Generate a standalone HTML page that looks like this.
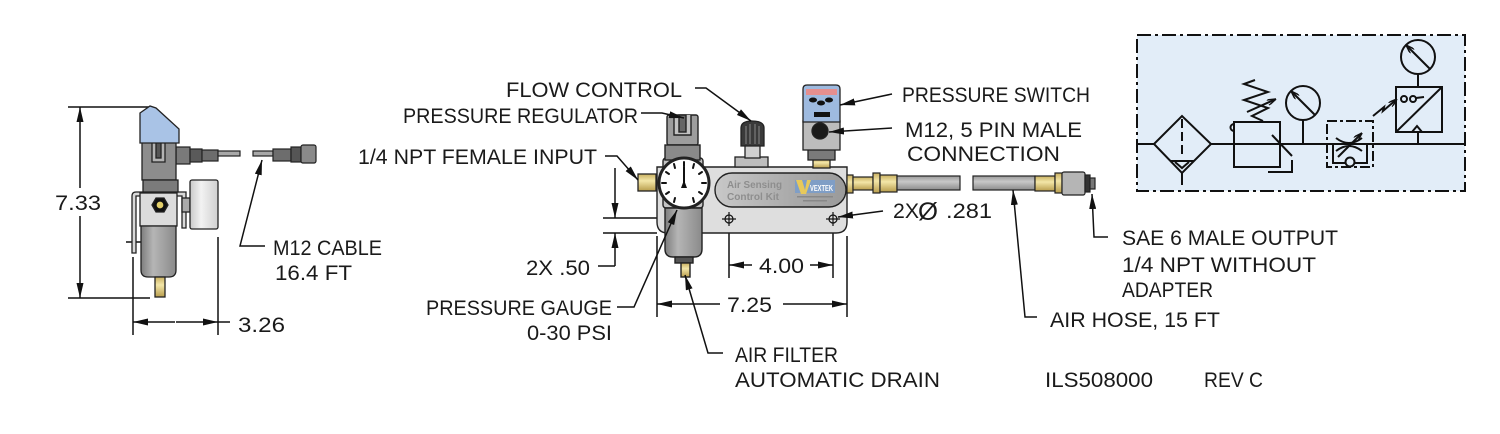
<!DOCTYPE html>
<html><head><meta charset="utf-8"><style>
html,body{margin:0;padding:0;background:#fff;}
svg{display:block;}
text{font-family:"Liberation Sans",sans-serif;font-size:21px;fill:#1a1a1a;}
</style></head><body>
<svg width="1500" height="434" viewBox="0 0 1500 434" xmlns="http://www.w3.org/2000/svg">
<defs>
<marker id="ar" markerWidth="15" markerHeight="7" refX="15" refY="3.5" orient="auto" markerUnits="userSpaceOnUse"><path d="M0,0 L15,3.5 L0,7 z" fill="#111"/></marker>
<marker id="as" markerWidth="15" markerHeight="7" refX="15" refY="3.5" orient="auto-start-reverse" markerUnits="userSpaceOnUse"><path d="M0,0 L15,3.5 L0,7 z" fill="#111"/></marker>
<marker id="sa" markerWidth="9" markerHeight="6" refX="9" refY="3" orient="auto" markerUnits="userSpaceOnUse"><path d="M0,0 L9,3 L0,6" fill="none" stroke="#111" stroke-width="1.5"/></marker>
<linearGradient id="gbowl" x1="0" x2="1" y1="0" y2="0"><stop offset="0" stop-color="#7d7d7d"/><stop offset="0.35" stop-color="#b5b5b5"/><stop offset="1" stop-color="#8a8a8a"/></linearGradient>
<linearGradient id="gbrass" x1="0" x2="0" y1="0" y2="1"><stop offset="0" stop-color="#c9b060"/><stop offset="0.4" stop-color="#f3e6a8"/><stop offset="1" stop-color="#b89d4c"/></linearGradient>
<linearGradient id="ghose" x1="0" x2="0" y1="0" y2="1"><stop offset="0" stop-color="#9a9a9a"/><stop offset="0.4" stop-color="#c8c8c8"/><stop offset="1" stop-color="#8c8c8c"/></linearGradient>
<linearGradient id="gplate" x1="0" x2="1" y1="0" y2="0"><stop offset="0" stop-color="#c8c8c8"/><stop offset="0.6" stop-color="#a9a9a9"/><stop offset="1" stop-color="#9a9a9a"/></linearGradient>
<linearGradient id="ggauge" x1="0" x2="1" y1="0" y2="0"><stop offset="0" stop-color="#c9c9c9"/><stop offset="0.4" stop-color="#f2f2f2"/><stop offset="1" stop-color="#d0d0d0"/></linearGradient>
</defs>

<!-- ================= LEFT SIDE VIEW ================= -->
<g stroke="#111" stroke-width="1.5" fill="none">
  <!-- 7.33 dimension -->
  <line x1="68" y1="107" x2="152" y2="107"/>
  <line x1="68" y1="298" x2="150" y2="298"/>
  <line x1="80" y1="188" x2="80" y2="107" marker-end="url(#ar)"/>
  <line x1="80" y1="216" x2="80" y2="298" marker-end="url(#ar)"/>
  <!-- 3.26 dimension -->
  <line x1="133" y1="257" x2="133" y2="335"/>
  <line x1="218" y1="237" x2="218" y2="335"/>
  <line x1="175" y1="322" x2="133" y2="322" marker-end="url(#ar)"/>
  <line x1="176" y1="322" x2="218" y2="322" marker-end="url(#ar)"/>
  <line x1="218" y1="322" x2="230" y2="322"/>
  <line x1="126" y1="242" x2="141" y2="242"/>
  <!-- M12 cable leader -->
  <polyline points="265,246 240,246 262,160" marker-end="url(#ar)"/>
</g>
<!-- cable connectors -->
<g stroke="#222" stroke-width="1.2">
  <rect x="176" y="147" width="14" height="17" fill="#7a7a7a"/>
  <rect x="190" y="149" width="12" height="13" fill="#5a5a5a"/>
  <rect x="202" y="150" width="16" height="11" fill="#6d6d6d"/>
  <rect x="218" y="151" width="22" height="5" fill="#a8a8a8"/>
  <rect x="253" y="151" width="20" height="5" fill="#a8a8a8"/>
  <rect x="273" y="149" width="18" height="12" fill="#6d6d6d"/>
  <rect x="291" y="147" width="10" height="15" fill="#555"/>
  <rect x="301" y="145" width="15" height="18" rx="2" fill="#8a8a8a"/>
</g>
<!-- bracket -->
<g stroke="#222" stroke-width="1.3" fill="#d8d8d8">
  <path d="M132,253 L132,196 Q132,192 136,192 L186,192 L186,228 L182,228 L182,196 L136,196 L136,253 Z"/>
</g>
<!-- regulator -->
<g stroke="#222" stroke-width="1.3">
  <rect x="142" y="140" width="34" height="40" fill="#8d8d8d"/>
  <path d="M152,140 L152,162 L165,162 L165,140" fill="#b3b3b3"/>
  <rect x="156" y="140" width="5" height="18" fill="#555"/>
  <rect x="143" y="180" width="35" height="12" fill="#7b7b7b"/>
  <polygon points="140,113 150,106 156,108 179,129 179,143 140,143" fill="#a9c3e6"/>
  <rect x="140" y="193" width="37" height="33" fill="#dcdcdc"/>
  <polygon points="152,205 156,198 164,198 168,205 164,212 156,212" fill="#111"/>
  <circle cx="160" cy="205" r="4" fill="#e3cf6a" stroke="#111"/>
  <path d="M141,226 L176,226 L176,270 Q176,277 169,277 L148,277 Q141,277 141,270 Z" fill="url(#gbowl)"/>
  <rect x="155" y="277" width="10" height="20" fill="url(#gbrass)"/>
  <rect x="182" y="198" width="8" height="14" fill="#aaa"/>
  <rect x="190" y="180" width="28" height="49" rx="2" fill="url(#ggauge)"/>
</g>

<!-- ================= MIDDLE ASSEMBLY ================= -->
<!-- dimension & extension lines -->
<g stroke="#111" stroke-width="1.5" fill="none">
  <line x1="603" y1="218" x2="742" y2="218"/>
  <line x1="823" y1="218" x2="843" y2="218"/>
  <line x1="603" y1="233" x2="657" y2="233"/>
  <line x1="615" y1="168" x2="615" y2="218" marker-end="url(#ar)"/>
  <line x1="615" y1="266" x2="615" y2="233" marker-end="url(#ar)"/>
  <polyline points="598,266 615,266"/>
  <line x1="729" y1="224" x2="729" y2="278"/>
  <line x1="833" y1="224" x2="833" y2="278"/>
  <line x1="752" y1="265" x2="729" y2="265" marker-end="url(#ar)"/>
  <line x1="810" y1="265" x2="833" y2="265" marker-end="url(#ar)"/>
  <line x1="657" y1="236" x2="657" y2="317"/>
  <line x1="847" y1="236" x2="847" y2="317"/>
  <line x1="720" y1="304" x2="657" y2="304" marker-end="url(#ar)"/>
  <line x1="783" y1="304" x2="847" y2="304" marker-end="url(#ar)"/>
</g>
<!-- manifold body -->
<g stroke="#222" stroke-width="1.4">
  <path d="M657,167 L847,167 L847,222 Q847,233 836,233 L668,233 Q657,233 657,222 Z" fill="#dedede"/>
  <rect x="715" y="173" width="131" height="34" rx="17" fill="url(#gplate)"/>
</g>
<text x="727" y="188" style="font-size:10px;font-weight:bold;fill:#8e8e8e" textLength="55" lengthAdjust="spacingAndGlyphs">Air Sensing</text>
<text x="727" y="200" style="font-size:10px;font-weight:bold;fill:#8e8e8e" textLength="52" lengthAdjust="spacingAndGlyphs">Control Kit</text>
<rect x="795" y="180" width="40" height="13" fill="#7f9ec6"/>
<polygon points="796,180 802,180 805,190 807,180 811,180 806,194 801,194" fill="#e8c95a"/>
<text x="810" y="191" style="font-size:8px;font-weight:bold;fill:#fff" textLength="23" lengthAdjust="spacingAndGlyphs">VEXTEK</text>
<rect x="797" y="196" width="36" height="1.5" fill="#888"/>
<rect x="803" y="200" width="24" height="1.5" fill="#888"/>
<!-- holes -->
<g stroke="#111" stroke-width="1.2" fill="none">
  <circle cx="729" cy="219" r="4"/><line x1="722" y1="219" x2="736" y2="219"/><line x1="729" y1="212" x2="729" y2="226"/>
  <circle cx="833" cy="219" r="4"/><line x1="826" y1="219" x2="840" y2="219"/><line x1="833" y1="212" x2="833" y2="226"/>
</g>
<!-- inlet -->
<rect x="638" y="174" width="18" height="17" fill="url(#gbrass)" stroke="#222" stroke-width="1.3"/>
<!-- regulator / gauge / filter -->
<g stroke="#222" stroke-width="1.4">
  <rect x="663" y="158" width="40" height="50" rx="3" fill="#c4c4c4"/>
  <rect x="667" y="115" width="31" height="30" rx="2" fill="#9d9d9d"/>
  <path d="M674,115 L674,135 L691,135 L691,115" fill="#c2c2c2"/>
  <rect x="679" y="115" width="7" height="17" fill="#666"/>
  <rect x="665" y="145" width="35" height="15" fill="#8a8a8a"/>
  <path d="M665,208 L702,208 L702,249 Q702,257 694,257 L673,257 Q665,257 665,249 Z" fill="url(#gbowl)"/>
  <rect x="675" y="257" width="18" height="6" fill="#555"/>
  <rect x="681" y="263" width="9" height="14" fill="url(#gbrass)"/>
  <circle cx="684" cy="183" r="25" fill="#fff" stroke="#222" stroke-width="3"/>
</g>
<g stroke="#111" stroke-width="2" stroke-linecap="round">
  <line x1="684" y1="162" x2="684" y2="166"/>
  <line x1="694" y1="164" x2="693" y2="168"/>
  <line x1="702" y1="172" x2="699" y2="174"/>
  <line x1="706" y1="183" x2="702" y2="183"/>
  <line x1="702" y1="194" x2="699" y2="192"/>
  <line x1="694" y1="202" x2="693" y2="198"/>
  <line x1="674" y1="164" x2="675" y2="168"/>
  <line x1="666" y1="172" x2="669" y2="174"/>
  <line x1="662" y1="183" x2="666" y2="183"/>
  <line x1="666" y1="194" x2="669" y2="192"/>
  <line x1="674" y1="202" x2="675" y2="198"/>
  <line x1="684" y1="167" x2="684" y2="185"/>
</g>
<path d="M681,188 L684,180 L687,188 Z" fill="#111"/>
<!-- flow control -->
<g stroke="#222" stroke-width="1.3">
  <rect x="735" y="157" width="33" height="10" fill="#bdbdbd"/>
  <rect x="745" y="145" width="15" height="13" fill="#cfcfcf"/>
  <path d="M741,146 L741,128 Q741,121 752,121 Q764,121 764,128 L764,146 Z" fill="#3a3a3a"/>
</g>
<g stroke="#888" stroke-width="1"><line x1="746" y1="126" x2="746" y2="144"/><line x1="750" y1="124" x2="750" y2="144"/><line x1="755" y1="124" x2="755" y2="144"/><line x1="759" y1="126" x2="759" y2="144"/></g>
<!-- pressure switch -->
<g stroke="#222" stroke-width="1.3">
  <rect x="813" y="159" width="17" height="9" fill="url(#gbrass)"/>
  <rect x="808" y="149" width="27" height="11" fill="#7a7a7a"/>
  <rect x="803" y="121" width="37" height="29" fill="#bcbcbc"/>
  <path d="M803,122 L803,89 Q803,85 807,85 L836,85 Q840,85 840,89 L840,122 Z" fill="#9ebadf"/>
  <rect x="806" y="89" width="31" height="6" fill="#e58f8f" stroke="none"/>
  <circle cx="820" cy="131" r="8" fill="#1a1a1a"/>
</g>
<g fill="#111"><ellipse cx="813" cy="100" rx="4" ry="2.5"/><ellipse cx="821" cy="103" rx="4" ry="2.5"/><ellipse cx="829" cy="100" rx="4" ry="2.5"/><rect x="814" y="112" width="16" height="5"/></g>
<!-- outlet fittings & hose -->
<g stroke="#222" stroke-width="1.2">
  <rect x="847" y="175" width="6" height="18" fill="url(#gbrass)"/>
  <rect x="853" y="177" width="20" height="13" fill="url(#gbrass)"/>
  <rect x="873" y="173" width="7" height="20" fill="url(#gbrass)"/>
  <rect x="880" y="175" width="17" height="17" fill="url(#gbrass)"/>
  <rect x="897" y="176" width="63" height="14" fill="url(#ghose)"/>
  <rect x="973" y="176" width="62" height="14" fill="url(#ghose)"/>
  <rect x="1035" y="176" width="20" height="15" fill="url(#gbrass)"/>
  <rect x="1055" y="173" width="7" height="20" fill="url(#gbrass)"/>
  <rect x="1062" y="172" width="23" height="23" rx="2" fill="#b5b5b5"/>
  <rect x="1085" y="175" width="5" height="17" fill="#333"/>
  <rect x="1090" y="178" width="5" height="11" fill="#777"/>
</g>
<!-- leaders middle -->
<g stroke="#111" stroke-width="1.5" fill="none">
  <polyline points="695,88 706,88 751,121" marker-end="url(#ar)"/>
  <polyline points="641,113 662,113 684,118" marker-end="url(#ar)"/>
  <polyline points="605,156 617,156 638,180" marker-end="url(#ar)"/>
  <polyline points="892,94 840,105" marker-end="url(#ar)"/>
  <polyline points="892,128 829,132" marker-end="url(#ar)"/>
  <polyline points="883,211 838,217" marker-end="url(#ar)"/>
  <polyline points="617,307 634,307 677,210" marker-end="url(#ar)"/>
  <polyline points="723,353 708,353 685,275" marker-end="url(#ar)"/>
  <polyline points="1037,317 1025,317 1013,190" marker-end="url(#ar)"/>
  <polyline points="1108,237 1094,237 1092,194" marker-end="url(#ar)"/>
</g>

<!-- ================= SCHEMATIC ================= -->
<rect x="1137" y="35" width="328" height="156" fill="#e2edf8" stroke="#111" stroke-width="2" stroke-dasharray="14 4 3 4"/>
<g stroke="#111" stroke-width="2" fill="none">
  <line x1="1137" y1="144" x2="1465" y2="144"/>
  <!-- filter -->
  <polygon points="1154,144 1182,116 1211,144 1182,173" fill="#e2edf8"/>
  <line x1="1182" y1="119" x2="1182" y2="158" stroke-dasharray="9 4"/>
  <line x1="1170" y1="161" x2="1194" y2="161"/>
  <polyline points="1175,162 1182,168 1189,162"/>
  <line x1="1182" y1="173" x2="1182" y2="185"/>
  <!-- regulator -->
  <rect x="1234" y="122" width="46" height="45"/>
  <path d="M1234,124 A3.5,3.5 0 0 0 1234,131"/>
  <polyline points="1263,121 1252,116 1268,108 1244,100 1268,92 1244,84 1255,80"/>
  <line x1="1247" y1="112" x2="1276" y2="99" marker-end="url(#sa)"/>
  <line x1="1272" y1="135" x2="1292" y2="156"/>
  <polyline points="1273,144 1280,144 1280,138"/>
  <polyline points="1268,172 1292,172 1292,160"/>
  <!-- gauge 1 -->
  <circle cx="1303" cy="103" r="17"/>
  <line x1="1303" y1="120" x2="1303" y2="144"/>
  <line x1="1315" y1="115" x2="1291" y2="91" marker-end="url(#sa)"/>
  <!-- flow control -->
  <rect x="1327" y="121" width="46" height="46" stroke-dasharray="10 3 3 3"/>
  <path d="M1336,138 Q1349,148 1362,138"/>
  <path d="M1336,151 Q1349,141 1362,151"/>
  <line x1="1338" y1="157" x2="1362" y2="133" marker-end="url(#sa)"/>
  <polyline points="1333,144 1333,163 1345,163"/>
  <polyline points="1355,163 1367,163 1367,144"/>
  <circle cx="1350" cy="162" r="4.5"/>
  <!-- pressure switch -->
  <rect x="1396" y="87" width="46" height="45"/>
  <line x1="1396" y1="132" x2="1442" y2="87"/>
  <polyline points="1412,132 1417,126 1422,132"/>
  <line x1="1418" y1="132" x2="1418" y2="144"/>
  <circle cx="1418" cy="57" r="17"/>
  <line x1="1418" y1="74" x2="1418" y2="87"/>
  <line x1="1430" y1="69" x2="1406" y2="45" marker-end="url(#sa)"/>
  <circle cx="1404" cy="99" r="3"/>
  <circle cx="1413" cy="99" r="3"/>
  <line x1="1416" y1="98" x2="1424" y2="97"/>
  <polyline points="1373,116 1384,107 1383,111 1397,99" marker-end="url(#sa)"/>
</g>

<!-- ================= TEXT ================= -->
<g>
<text x="506" y="97" textLength="176" lengthAdjust="spacingAndGlyphs">FLOW CONTROL</text>
<text x="403" y="123" textLength="235" lengthAdjust="spacingAndGlyphs">PRESSURE REGULATOR</text>
<text x="358" y="164" textLength="239" lengthAdjust="spacingAndGlyphs">1/4 NPT FEMALE INPUT</text>
<text x="902" y="102" textLength="188" lengthAdjust="spacingAndGlyphs">PRESSURE SWITCH</text>
<text x="905" y="137" textLength="177" lengthAdjust="spacingAndGlyphs">M12, 5 PIN MALE</text>
<text x="907" y="161" textLength="153" lengthAdjust="spacingAndGlyphs">CONNECTION</text>
<text x="893" y="218" textLength="26" lengthAdjust="spacingAndGlyphs">2X</text>
<text x="918" y="220" style="font-size:25px" textLength="20" lengthAdjust="spacingAndGlyphs">Ø</text>
<text x="946" y="218" textLength="46" lengthAdjust="spacingAndGlyphs">.281</text>
<text x="273" y="255" textLength="109" lengthAdjust="spacingAndGlyphs">M12 CABLE</text>
<text x="275" y="280" textLength="77" lengthAdjust="spacingAndGlyphs">16.4 FT</text>
<text x="55" y="210" textLength="46" lengthAdjust="spacingAndGlyphs">7.33</text>
<text x="238" y="332" textLength="47" lengthAdjust="spacingAndGlyphs">3.26</text>
<text x="526" y="275" textLength="64" lengthAdjust="spacingAndGlyphs">2X .50</text>
<text x="426" y="315" textLength="186" lengthAdjust="spacingAndGlyphs">PRESSURE GAUGE</text>
<text x="527" y="340" textLength="85" lengthAdjust="spacingAndGlyphs">0-30 PSI</text>
<text x="759" y="273" textLength="45" lengthAdjust="spacingAndGlyphs">4.00</text>
<text x="727" y="312" textLength="45" lengthAdjust="spacingAndGlyphs">7.25</text>
<text x="735" y="362" textLength="103" lengthAdjust="spacingAndGlyphs">AIR FILTER</text>
<text x="735" y="387" textLength="205" lengthAdjust="spacingAndGlyphs">AUTOMATIC DRAIN</text>
<text x="1122" y="245" textLength="216" lengthAdjust="spacingAndGlyphs">SAE 6 MALE OUTPUT</text>
<text x="1122" y="272" textLength="194" lengthAdjust="spacingAndGlyphs">1/4 NPT WITHOUT</text>
<text x="1122" y="297" textLength="91" lengthAdjust="spacingAndGlyphs">ADAPTER</text>
<text x="1050" y="327" textLength="170" lengthAdjust="spacingAndGlyphs">AIR HOSE, 15 FT</text>
<text x="1045" y="387" textLength="108" lengthAdjust="spacingAndGlyphs">ILS508000</text>
<text x="1204" y="387" textLength="59" lengthAdjust="spacingAndGlyphs">REV C</text>
</g>
</svg>
</body></html>
